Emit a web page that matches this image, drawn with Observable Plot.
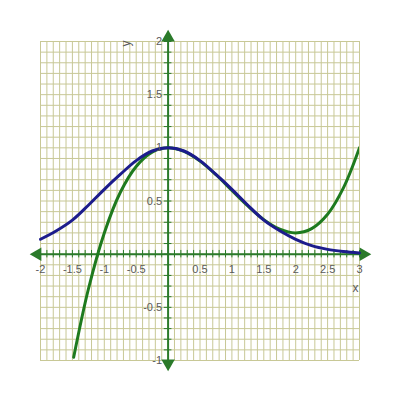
<!DOCTYPE html>
<html><head><meta charset="utf-8">
<script src="https://cdn.jsdelivr.net/npm/d3@7"></script>
<script src="https://cdn.jsdelivr.net/npm/@observablehq/plot@0.6"></script>
<style>body{margin:0;background:#fff;font-family:Arial,"Liberation Sans",sans-serif}</style>
</head><body><div id="chart"></div>
<script>
const blueX = [-2,-1.75,-1.5,-1.25,-1,-0.75,-0.5,-0.25,0,0.25,0.5,0.75,1,1.25,1.5,1.75,2,2.25,2.5,2.75,3];
const blueY = [0.14,0.22,0.32,0.46,0.61,0.75,0.88,0.97,1.0,0.97,0.88,0.75,0.61,0.46,0.32,0.22,0.14,0.08,0.045,0.025,0.012];
const greenX = [-1.48,-1.25,-1,-0.75,-0.5,-0.25,0,0.25,0.5,0.75,1,1.25,1.5,1.75,2,2.25,2.5,2.75,3];
const greenY = [-0.97,-0.33,0.2,0.58,0.825,0.96,1.0,0.966,0.875,0.747,0.6,0.453,0.325,0.235,0.2,0.24,0.375,0.625,1.0];
const xTickLabels = ["-2","-1.5","-1","-0.5","0.5","1","1.5","2","2.5","3"];
const yTickLabels = ["-1","-0.5","0.5","1","1.5","2"];

const blue = blueX.map((x,i)=>({x, y: blueY[i]}));
const green = greenX.map((x,i)=>({x, y: greenY[i]}));
const xLab = xTickLabels.map(s=>({v:+s, s}));
const yLab = yTickLabels.map(s=>({v:+s, s}));
const fine = n => Math.round(n*10)/10;
const gridX = d3.range(-20, 31).map(i=>fine(i/10));
const gridY = d3.range(-10, 21).map(i=>fine(i/10));

const gridC = "#c8c896", axisC = "#2a7a2a", labC = "#5a5a5a";
const chart = Plot.plot({
  width: 400, height: 400,
  marginLeft: 40, marginRight: 41, marginTop: 41, marginBottom: 40,
  x: {domain: [-2, 3], axis: null},
  y: {domain: [-1, 2], axis: null},
  style: {fontFamily: "Arial, 'Liberation Sans', sans-serif", background: "#fff"},
  marks: [
    Plot.ruleX(gridX, {stroke: gridC, strokeWidth: 1}),
    Plot.ruleY(gridY, {stroke: gridC, strokeWidth: 1}),
    Plot.ruleY([0], {stroke: axisC, strokeWidth: 2}),
    Plot.ruleX([0], {stroke: axisC, strokeWidth: 2}),
    Plot.ruleX(gridX, {x: d=>d, y1: -0.035, y2: 0.035, stroke: axisC, strokeWidth: 1}),
    Plot.ruleY(gridY, {y: d=>d, x1: -0.06, x2: 0.06, stroke: axisC, strokeWidth: 1}),
    Plot.dot([{x:0,y:2}], {x:"x", y:"y", symbol:"triangle", r:5, fill: axisC, stroke:null, dy:-4}),
    Plot.dot([{x:0,y:-1}], {x:"x", y:"y", symbol:"triangle", r:5, fill: axisC, stroke:null, rotate:180, dy:3}),
    Plot.dot([{x:-2,y:0}], {x:"x", y:"y", symbol:"triangle", r:5, fill: axisC, stroke:null, rotate:-90, dx:-3}),
    Plot.dot([{x:3,y:0}], {x:"x", y:"y", symbol:"triangle", r:5, fill: axisC, stroke:null, rotate:90, dx:4}),
    Plot.line(green, {x:"x", y:"y", curve:"catmull-rom", stroke:"#1e7a1e", strokeWidth:3, clip:true}),
    Plot.line(blue, {x:"x", y:"y", curve:"catmull-rom", stroke:"#1c1c8c", strokeWidth:3}),
    Plot.text(xLab, {x:"v", y:0, text:"s", dy:15, fill: labC, fontSize: 11}),
    Plot.text(yLab, {x:0, y:"v", text:"s", dx:-6, textAnchor:"end", fill: labC, fontSize: 11}),
    Plot.text(["x"], {x:3, y:0, text: d=>d, dx:-4, dy:34, fill: labC, fontSize: 12}),
    Plot.text(["y"], {x:0, y:2, text: d=>d, dx:-42, dy:2, rotate:-90, fill: labC, fontSize: 12})
  ]
});
document.getElementById("chart").append(chart);
</script></body></html>
